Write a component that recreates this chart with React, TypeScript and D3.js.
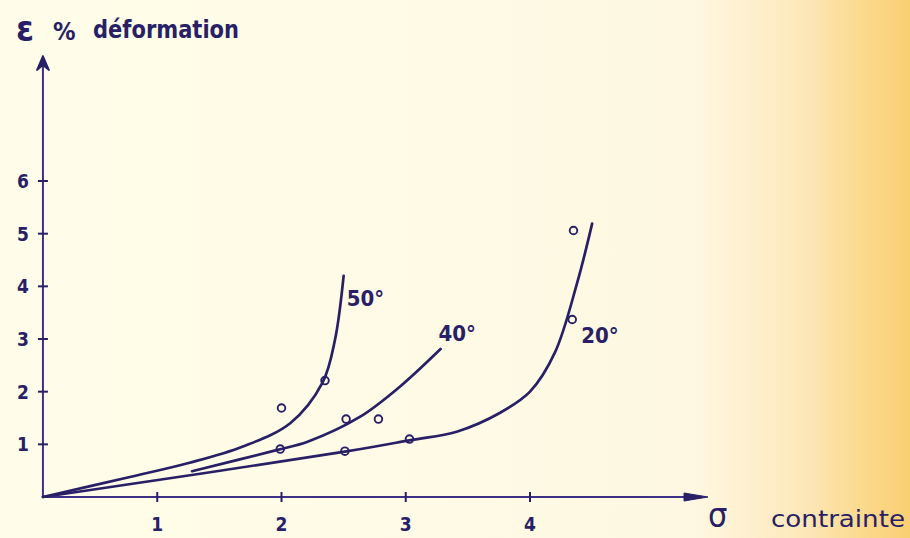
import React, { FC, useMemo } from "react"
import { scaleLinear, line, curveCatmullRom } from "d3"

type P = [number, number]

// axis ticks
const xTicks = [1, 2, 3, 4]
const yTicks = [1, 2, 3, 4, 5, 6]

// hand drawn origin sits a little right of x = 0
const originX = 0.08

// curves (contrainte, deformation %)
const curve50: P[] = [
  [0.08, 0],
  [0.78, 0.38],
  [1.26, 0.65],
  [1.69, 0.96],
  [2.07, 1.4],
  [2.33, 2.17],
  [2.43, 2.98],
  [2.5, 4.2],
]
const curve40: P[] = [
  [1.28, 0.49],
  [1.96, 0.89],
  [2.21, 1.05],
  [2.63, 1.52],
  [2.95, 2.09],
  [3.28, 2.81],
]
const curve20: P[] = [
  [0.08, 0],
  [2.51, 0.86],
  [3.04, 1.08],
  [3.41, 1.24],
  [3.76, 1.6],
  [4.0, 2.0],
  [4.2, 2.74],
  [4.38, 4.07],
  [4.5, 5.19],
]

// measured points
const points: P[] = [
  [2.0, 1.69],
  [2.35, 2.21],
  [2.52, 1.48],
  [2.78, 1.48],
  [1.99, 0.91],
  [2.51, 0.87],
  [3.03, 1.1],
  [4.35, 5.06],
  [4.34, 3.37],
]

const curveLabels = ["50°", "40°", "20°"]

const ink = "#281f66"
const axisInk = "#3e2f86"
const font = "'DejaVu Sans Condensed', 'DejaVu Sans', sans-serif"

const App: FC = () => {
  const width = 910
  const height = 538

  // scales
  const xScale = useMemo(() => scaleLinear().domain([0, 4]).range([33, 530]), [])
  const yScale = useMemo(() => scaleLinear().domain([0, 6]).range([497, 181]), [])

  const lineGen = line<P>()
    .x((d) => xScale(d[0]))
    .y((d) => yScale(d[1]))
    .curve(curveCatmullRom.alpha(0.5))

  const ox = xScale(originX)
  const oy = yScale(0)
  const yTop = 56
  const xEnd = 708

  const curves = [curve50, curve40, curve20]
  // label anchors taken from curve ends
  const labelPos = [
    { x: xScale(curve50[curve50.length - 1][0]) + 3, y: yScale(curve50[curve50.length - 1][1]) + 30 },
    { x: xScale(curve40[curve40.length - 1][0]) - 2, y: yScale(curve40[curve40.length - 1][1]) - 8 },
    { x: xScale(curve20[curve20.length - 1][0]) - 11, y: yScale(curve20[curve20.length - 1][1]) + 119 },
  ]

  return (
    <svg
      width={width}
      height={height}
      style={{ position: "absolute", left: 0, top: 0, display: "block" }}
    >
      <defs>
        <linearGradient id="paper" x1="0" y1="0" x2="1" y2="0">
          <stop offset="0%" stopColor="#fffde9" />
          <stop offset="76%" stopColor="#fef8e2" />
          <stop offset="88%" stopColor="#fde8bb" />
          <stop offset="95%" stopColor="#fbd98c" />
          <stop offset="100%" stopColor="#f9cf72" />
        </linearGradient>
      </defs>
      <rect width={width} height={height} fill="url(#paper)" />

      {/* y axis */}
      <line x1={ox} y1={oy} x2={ox} y2={yTop + 6} stroke={axisInk} strokeWidth={2} />
      <path
        d={`M${ox - 6},${yTop + 14} L${ox},${yTop} L${ox + 6},${yTop + 14} L${ox},${yTop + 9} Z`}
        fill={ink}
        stroke={ink}
        strokeWidth={1.8}
        strokeLinejoin="round"
      />
      {yTicks.map((t) => (
        <g key={`y${t}`}>
          <line x1={ox - 5} x2={ox + 5} y1={yScale(t)} y2={yScale(t)} stroke={ink} strokeWidth={2} />
          <text
            x={ox - 14}
            y={yScale(t) + 7}
            textAnchor="end"
            fontFamily={font}
            fontWeight="bold"
            fontSize={19}
            fill={ink}
          >
            {t}
          </text>
        </g>
      ))}

      {/* x axis */}
      <line x1={ox} y1={oy} x2={xEnd - 10} y2={oy} stroke={axisInk} strokeWidth={2} />
      <path
        d={`M${xEnd - 24},${oy - 4} L${xEnd},${oy} L${xEnd - 24},${oy + 4} Z`}
        fill={ink}
        stroke={ink}
        strokeWidth={1}
        strokeLinejoin="round"
      />
      {xTicks.map((t) => (
        <g key={`x${t}`}>
          <line x1={xScale(t)} x2={xScale(t)} y1={oy - 5} y2={oy + 5} stroke={ink} strokeWidth={2} />
          <text
            x={xScale(t)}
            y={oy + 34}
            textAnchor="middle"
            fontFamily={font}
            fontWeight="bold"
            fontSize={19}
            fill={ink}
          >
            {t}
          </text>
        </g>
      ))}

      {/* curves */}
      {curves.map((c, i) => (
        <path
          key={`c${i}`}
          d={lineGen(c) ?? ""}
          fill="none"
          stroke={ink}
          strokeWidth={2.7}
          strokeLinecap="round"
        />
      ))}

      {/* points */}
      {points.map((p, i) => (
        <circle
          key={`p${i}`}
          cx={xScale(p[0])}
          cy={yScale(p[1])}
          r={3.8}
          fill="none"
          stroke={ink}
          strokeWidth={1.9}
        />
      ))}

      {/* curve labels */}
      {curveLabels.map((l, i) => (
        <text
          key={`l${i}`}
          x={labelPos[i].x}
          y={labelPos[i].y}
          fontFamily={font}
          fontWeight="bold"
          fontSize={22}
          fill={ink}
        >
          {l}
        </text>
      ))}

      {/* axis titles */}
      <text x={16} y={41} fontFamily={font} fontWeight="bold" fontSize={36} fill={ink}>
        ε
      </text>
      <text x={53} y={40} fontFamily={font} fontWeight="bold" fontSize={25} fill={ink}>
        %
      </text>
      <text
        x={93}
        y={38}
        fontFamily={font}
        fontWeight="bold"
        fontSize={25}
        fill={ink}
        textLength={146}
        lengthAdjust="spacingAndGlyphs"
      >
        déformation
      </text>

      <text x={708} y={527} fontFamily={font} fontSize={34} fill={ink}>
        σ
      </text>
      <text
        x={771}
        y={527}
        fontFamily={font}
        fontSize={23}
        fill={ink}
        textLength={134}
        lengthAdjust="spacingAndGlyphs"
      >
        contrainte
      </text>
    </svg>
  )
}

export default App
